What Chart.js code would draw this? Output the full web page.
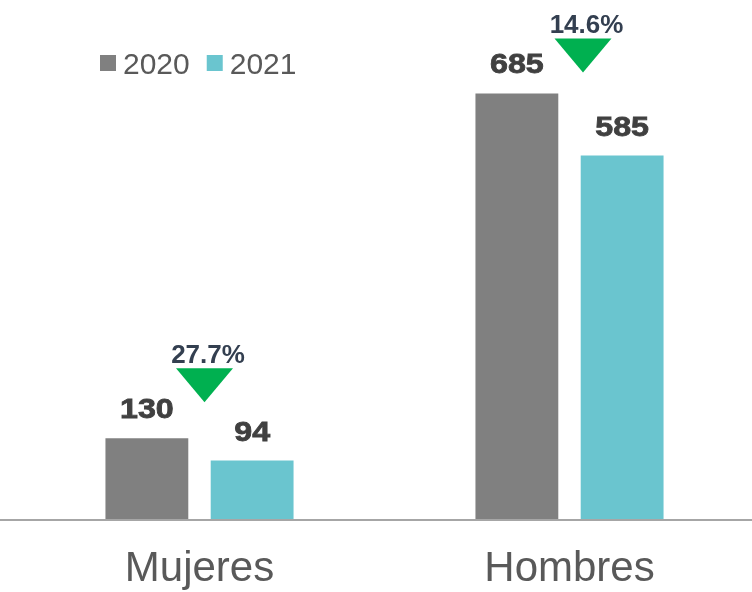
<!DOCTYPE html>
<html>
<head>
<meta charset="utf-8">
<script src="https://cdn.jsdelivr.net/npm/chart.js@4/dist/chart.umd.min.js"></script>
<style>
  html, body { margin: 0; padding: 0; background: #fff; overflow: hidden; }
  #wrap { width: 752px; height: 592px; overflow: hidden; }
</style>
</head>
<body>
<div id="wrap"><canvas id="chart" width="756" height="592"></canvas></div>
<script>
const categories = ['Mujeres', 'Hombres'];
const years = ['2020', '2021'];
const values2020 = [130, 685];
const values2021 = [94, 585];

const colors = ['#808080', '#6AC5CF'];
const font = "'Liberation Sans', Arial, sans-serif";

// drop from 2020 to 2021 per category, e.g. 27.7%
const drops = values2020.map((v, i) => ((v - values2021[i]) / v * 100).toFixed(1) + '%');

// arrow placement relative to the 2020 bar (px)
const arrowOffsets = [{ dx: 5, dy: -36 }, { dx: 13.5, dy: -21 }];

// draw text stretched horizontally (the original uses a wide heavy face)
function wideText(c, txt, x, y, sx) {
  c.save();
  c.translate(x, y);
  c.scale(sx, 1);
  c.fillText(txt, 0, 0);
  c.restore();
}

const extras = {
  id: 'extras',
  afterDraw(chart) {
    const c = chart.ctx;
    const area = chart.chartArea;
    c.save();

    // baseline across the whole width
    c.strokeStyle = '#A6A6A6';
    c.lineWidth = 2;
    c.beginPath();
    c.moveTo(0, area.bottom + 1);
    c.lineTo(chart.width, area.bottom + 1);
    c.stroke();

    // value labels
    c.font = 'bold 28px ' + font;
    c.fillStyle = '#404040';
    c.textAlign = 'center';
    c.textBaseline = 'alphabetic';
    c.lineWidth = 0.8;
    c.strokeStyle = '#404040';
    chart.data.datasets.forEach((ds, di) => {
      chart.getDatasetMeta(di).data.forEach((bar, i) => {
        c.save();
        c.translate(bar.x, bar.y - 20);
        c.scale(1.15, 1);
        c.fillText(ds.data[i], 0, 0);
        c.strokeText(ds.data[i], 0, 0);
        c.restore();
      });
    });

    // legend
    c.font = '30px ' + font;
    c.textAlign = 'left';
    let x = 100;
    chart.data.datasets.forEach(ds => {
      c.fillStyle = ds.backgroundColor;
      c.fillRect(x, 55, 16, 16);
      c.fillStyle = '#595959';
      c.fillText(ds.label, x + 23, 74);
      x += 23 + c.measureText(ds.label).width + 17;
    });

    // drop arrows + percentages
    const meta = chart.getDatasetMeta(0);
    const xs = chart.scales.x;
    drops.forEach((txt, i) => {
      const off = arrowOffsets[i];
      const cx = xs.getPixelForValue(i) + off.dx;
      const tip = meta.data[i].y + off.dy;
      const w = 57, h = 34;
      c.fillStyle = '#00B050';
      c.beginPath();
      c.moveTo(cx - w / 2, tip - h);
      c.lineTo(cx + w / 2, tip - h);
      c.lineTo(cx, tip);
      c.closePath();
      c.fill();

      c.font = 'bold 25px ' + font;
      c.fillStyle = '#333F50';
      c.textAlign = 'center';
      wideText(c, txt, cx + 3.5, tip - h - 5, 1.04);
    });

    c.restore();
  }
};

new Chart(document.getElementById('chart'), {
  type: 'bar',
  data: {
    labels: categories,
    datasets: [
      { label: years[0], data: values2020, backgroundColor: colors[0] },
      { label: years[1], data: values2021, backgroundColor: colors[1] }
    ]
  },
  options: {
    responsive: false,
    animation: false,
    layout: { padding: { left: 14.5, right: 1.5, top: 22, bottom: 0 } },
    datasets: {
      bar: { categoryPercentage: 0.569, barPercentage: 0.787 }
    },
    scales: {
      x: {
        grid: { display: false, drawTicks: false },
        border: { display: false },
        ticks: {
          padding: 25,
          color: '#595959',
          font: { family: font, size: 42 }
        },
        afterFit(scale) { scale.height = 73; }
      },
      y: {
        display: false,
        min: 0,
        max: 800
      }
    },
    plugins: {
      legend: { display: false },
      tooltip: { enabled: false }
    }
  },
  plugins: [extras]
});
</script>
</body>
</html>
